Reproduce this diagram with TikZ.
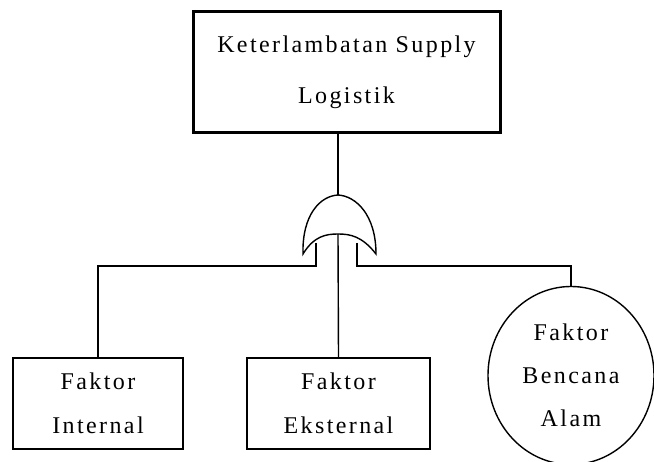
\documentclass[tikz,border=0pt]{standalone}
\usepackage{fontspec}
\setmainfont{Liberation Serif}[LetterSpace=10]
\usetikzlibrary{shapes.geometric}

\begin{document}
\begin{tikzpicture}[x=1pt,y=-1pt,
    line width=1.4pt,
    event/.style={draw, rectangle, align=center, inner sep=0pt,
      font=\fontsize{24}{44}\selectfont},
    top event/.style={event, line width=3pt, font=\fontsize{24}{51}\selectfont},
    basic/.style={draw, ellipse, align=center, inner sep=0pt,
      font=\fontsize{24}{43}\selectfont}
  ]
  \useasboundingbox (0,0) rectangle (654,462);

  % events
  \node (top) [top event, minimum width=307pt, minimum height=121pt] at (346.5,72.5)
    {Keterlambatan Supply\\Logistik};
  \node (int) [event, minimum width=170pt, minimum height=91pt] at (98,403.5)
    {Faktor\\Internal};
  \node (ext) [event, minimum width=183pt, minimum height=91pt] at (338.5,403.5)
    {Faktor\\Eksternal};
  \node (alam) [basic, minimum width=166pt, minimum height=178pt] at (571,375.5)
    {Faktor\\Bencana\\Alam};

  % OR gate
  \coordinate (gate-out) at (338,195);
  \coordinate (gate-in1) at (316,243);
  \coordinate (gate-in2) at (338,234);
  \coordinate (gate-in3) at (357,243);
  \coordinate (bus) at (0,266);
  \draw (303,254) .. controls (302,215) and (320,196) .. (gate-out)
    .. controls (356,196) and (376,215) .. (376,254)
    .. controls (362,236) and (350,234) .. (gate-in2)
    .. controls (326,234) and (314,236) .. cycle;

  % connectors
  \draw (gate-out |- top.south) -- (gate-out);
  \draw (gate-in1) -- (gate-in1 |- bus) -| (int.north);
  \draw (gate-in2) -- (ext.north);
  \draw (gate-in3) -- (gate-in3 |- bus) -| (alam.north);
\end{tikzpicture}
\end{document}
